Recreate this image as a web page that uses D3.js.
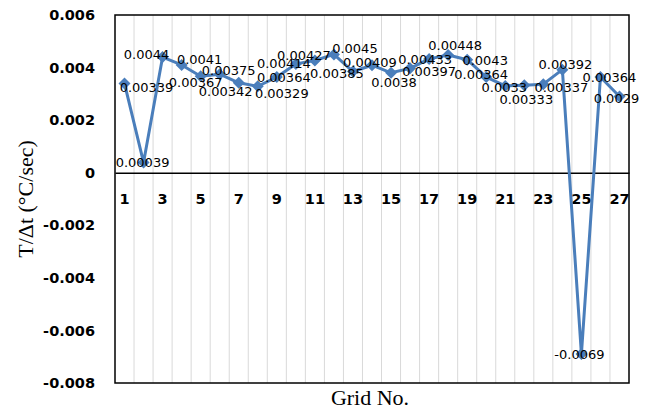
<!DOCTYPE html>
<html lang="en">
<head>
  <meta charset="utf-8">
  <title>Grid No. vs T/Δt</title>
  <script src="https://d3js.org/d3.v7.min.js"></script>
  <style>
  body { margin: 0; background: #fff; }
  .tick text { font: bold 14.5px "DejaVu Sans", sans-serif; fill: #000; }
  .lbl { font: 13px "DejaVu Sans", sans-serif; fill: #000; text-anchor: middle; }
  .title { font: 22px "Liberation Serif", "Times New Roman", serif; fill: #000; text-anchor: middle; }
  </style>
</head>
<body>
<script>

var grids = d3.range(1, 28);
var rates = [0.00339, 0.00039, 0.0044, 0.0041, 0.00367, 0.00375, 0.00342, 0.00329, 0.00364,
             0.00414, 0.00427, 0.0045, 0.00385, 0.00409, 0.0038, 0.00397, 0.00433, 0.00448,
             0.0043, 0.00364, 0.0033, 0.00333, 0.00337, 0.00392, -0.0069, 0.00364, 0.0029];
var yTicks = [-0.008, -0.006, -0.004, -0.002, 0, 0.002, 0.004, 0.006];

// hand placed label nudges (px), the labels in the original were dragged around
var nudge = [[22,4],[-1,0],[-16,-3],[18,-6],[-5,6],[9,-4],[-13,9],[24,7],[7,0],
             [-12,-1],[-11,-5],[21,-6],[-16,2],[-2,-3],[3,9],[19,3],[-4,0],[7,-10],
             [18,1],[-5,-3],[-1,1],[2,14],[18,3],[3,-5],[-2,0],[9,0],[-3,2]];

var width = 654, height = 411,
    margin = {top: 15, right: 25, bottom: 28, left: 115};

var svg = d3.select("body").append("svg")
    .attr("width", width)
    .attr("height", height);

var x = d3.scaleBand()
    .domain(grids)
    .range([margin.left, width - margin.right])
    .padding(0);

var y = d3.scaleLinear()
    .domain([-0.008, 0.006])
    .range([height - margin.bottom, margin.top]);

var cx = function(d) { return x(d) + x.bandwidth() / 2; };

// vertical gridlines between categories
svg.append("g").selectAll("line")
    .data(grids.slice(1))
  .enter().append("line")
    .attr("x1", function(d) { return x(d); })
    .attr("x2", function(d) { return x(d); })
    .attr("y1", y(0.006))
    .attr("y2", y(-0.008))
    .attr("stroke", "#d9d9d9")
    .attr("stroke-width", 1);

// plot border
svg.append("rect")
    .attr("x", margin.left)
    .attr("y", margin.top)
    .attr("width", width - margin.left - margin.right)
    .attr("height", height - margin.top - margin.bottom)
    .attr("fill", "none")
    .attr("stroke", "#000")
    .attr("stroke-width", 1.5);

var fmt = function(d) { return d === 0 ? "0" : d3.format(".3f")(d).replace("\u2212", "-"); };

var yAxis = svg.append("g")
    .attr("transform", "translate(" + margin.left + ",0)")
    .call(d3.axisLeft(y).tickValues(yTicks).tickSize(0).tickPadding(20).tickFormat(fmt));
yAxis.select(".domain").remove();

var xAxis = svg.append("g")
    .attr("transform", "translate(0," + y(0) + ")")
    .call(d3.axisBottom(x).tickSize(0).tickPadding(21)
      .tickFormat(function(d) { return d % 2 ? d : ""; }));
xAxis.select(".domain")
    .attr("stroke", "#000")
    .attr("stroke-width", 1.5);

var pts = grids.map(function(g, i) { return {g: g, v: rates[i], n: nudge[i]}; });

var line = d3.line()
    .x(function(d) { return cx(d.g); })
    .y(function(d) { return y(d.v); });

svg.append("path")
    .datum(pts)
    .attr("d", line)
    .attr("fill", "none")
    .attr("stroke", "#4a7ebb")
    .attr("stroke-width", 3)
    .attr("stroke-linejoin", "round");

svg.append("g").selectAll("path")
    .data(pts)
  .enter().append("path")
    .attr("d", d3.symbol(d3.symbolSquare, 72))
    .attr("transform", function(d) { return "translate(" + cx(d.g) + "," + y(d.v) + ") rotate(45)"; })
    .attr("fill", "#4a7ebb");

svg.append("g").selectAll("text")
    .data(pts)
  .enter().append("text")
    .attr("class", "lbl")
    .attr("x", function(d) { return cx(d.g) + d.n[0]; })
    .attr("y", function(d) { return y(d.v) + d.n[1]; })
    .attr("dy", "0.36em")
    .text(function(d) { return String(d.v); });

svg.append("text")
    .attr("class", "title")
    .attr("transform", "translate(25," + (margin.top + (height - margin.top - margin.bottom) / 2) + ") rotate(-90)")
    .attr("dy", "0.35em")
    .text("T/\u0394t (\u00b0C/sec)");

svg.append("text")
    .attr("class", "title")
    .attr("x", 370)
    .attr("y", 405)
    .text("Grid No.");

</script>
</body>
</html>
